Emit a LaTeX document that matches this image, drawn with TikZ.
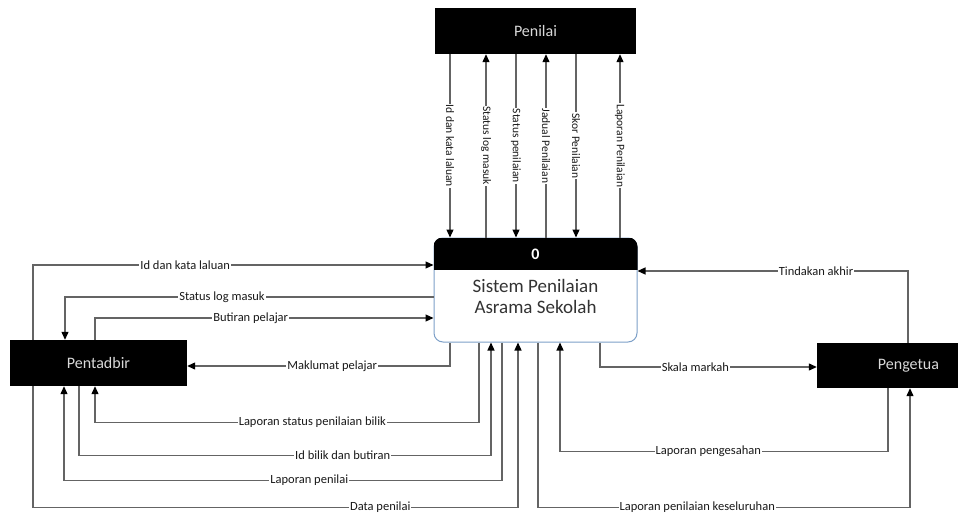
\documentclass[tikz,border=0pt]{standalone}
\usepackage{fontspec}
\setmainfont{Carlito}
\usetikzlibrary{arrows.meta}
\definecolor{procline}{RGB}{125,160,200}
\definecolor{flowgray}{RGB}{100,100,100}

\begin{document}
\begin{tikzpicture}[x=1pt, y=-1pt,
  entity/.style={rectangle, fill=black, text=white!85!black, inner sep=0pt, font=\fontsize{16}{19}\selectfont},
  procbox/.style={rectangle, draw=procline, line width=1pt, rounded corners=9pt, fill=white, minimum width=203pt, minimum height=104pt, inner sep=0pt},
  flow/.style={draw=flowgray, line width=1.2pt, -{Triangle[length=8pt, width=7pt, color=black]}},
  lbl/.style={fill=white, inner sep=1pt, font=\fontsize{12.5}{14}\selectfont, text=black!90},
  vlbl/.style={lbl, rotate=-90, font=\fontsize{11.5}{13}\selectfont},
]
\useasboundingbox (0,0) rectangle (958,513);

% === ENTITIES AND PROCESS ===
\node[entity, minimum width=201pt, minimum height=46pt] (penilai) at (535.5,31) {Penilai};
\node[entity, minimum width=177pt, minimum height=46pt] (pentadbir) at (98.5,363) {Pentadbir};
\node[entity, minimum width=141pt, minimum height=45pt, text width=103pt, align=right] (pengetua) at (887.5,365.5) {Pengetua};

\node[procbox] (proc) at (535.5,290) {};
\begin{scope}
  \clip[rounded corners=9pt] (proc.south west) rectangle (proc.north east);
  \fill[black] (proc.north west) rectangle ([yshift=-32pt]proc.north east);
\end{scope}
\node[font=\bfseries\fontsize{16}{18}\selectfont, text=white] (procid) at (535.5,254) {0};
\node[align=center, font=\fontsize{19}{21}\selectfont, text=black!80] (procname) at (535.5,296) {Sistem Penilaian\\Asrama Sekolah};

% === PENILAI ===
\draw[flow] (penilai.south -| 450,0) -- node[vlbl] {Id dan kata laluan} (proc.north -| 450,0);
\draw[flow] (proc.north -| 486,0) -- node[vlbl] {Status log masuk} (penilai.south -| 486,0);
\draw[flow] (penilai.south -| 516,0) -- node[vlbl] {Status penilaian} (proc.north -| 516,0);
\draw[flow] (proc.north -| 546,0) -- node[vlbl] {Jadual Penilaian} (penilai.south -| 546,0);
\draw[flow] (penilai.south -| 576,0) -- node[vlbl] {Skor Penilaian} (proc.north -| 576,0);
\draw[flow] (proc.north -| 620,0) -- node[vlbl] {Laporan Penilaian} (penilai.south -| 620,0);

% === PENTADBIR ===
\draw[flow] (pentadbir.north -| 33,0) |- node[lbl, pos=0.69] {Id dan kata laluan} (proc.west |- 0,265);
\draw[flow] (proc.west |- 0,297) -| node[lbl, pos=0.287] {Status log masuk} (pentadbir.north -| 65,0);
\draw[flow] (pentadbir.north -| 95,0) |- node[lbl, pos=0.73] {Butiran pelajar} (proc.west |- 0,318);
\draw[flow] (proc.south -| 450,0) |- node[lbl, pos=0.724] {Maklumat pelajar} (pentadbir.east |- 0,366);
\draw[flow] (proc.south -| 479,0) -- ++(0,80) -| node[lbl, pos=0.217] {Laporan status penilaian bilik} (pentadbir.south -| 95,0);
\draw[flow] (pentadbir.south -| 79,0) -- ++(0,69) -| node[lbl, pos=0.32] {Id bilik dan butiran} (proc.south -| 491,0);
\draw[flow] (proc.south -| 502,0) -- ++(0,138) -| node[lbl, pos=0.22] {Laporan penilai} (pentadbir.south -| 64,0);
\draw[flow] (pentadbir.south -| 33,0) -- ++(0,121) -| node[lbl, pos=0.358] {Data penilai} (proc.south -| 518,0);

% === PENGETUA ===
\draw[flow] (pengetua.north -| 908,0) |- node[lbl, pos=0.67] {Tindakan akhir} (proc.east |- 0,271);
\draw[flow] (proc.south -| 600,0) |- node[lbl, pos=0.72] {Skala markah} (pengetua.west |- 0,367);
\draw[flow] (pengetua.south -| 888,0) -- ++(0,63) -| node[lbl, pos=0.274] {Laporan pengesahan} (proc.south -| 560,0);
\draw[flow] (proc.south -| 538,0) -- ++(0,165) -| node[lbl, pos=0.214] {Laporan penilaian keseluruhan} (pengetua.south -| 910,0);
\end{tikzpicture}
\end{document}
